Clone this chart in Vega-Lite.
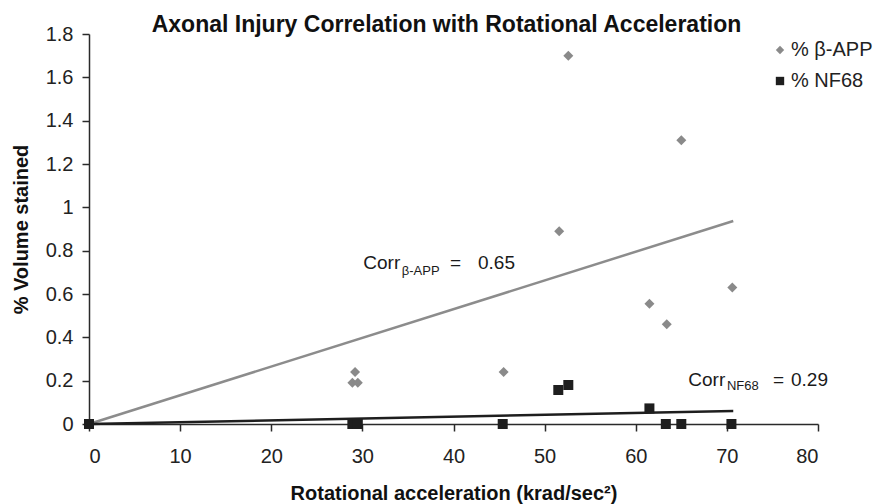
{
  "$schema": "https://vega.github.io/schema/vega-lite/v6.json",
  "autosize": "none",
  "width": 729,
  "height": 390,
  "padding": {"left": 89, "top": 34, "right": 64, "bottom": 80},
  "background": "white",
  "config": {
    "view": {"stroke": null},
    "font": "Liberation Sans",
    "axis": {
      "grid": false,
      "domainColor": "#2a2a2a",
      "domainWidth": 1.5,
      "tickColor": "#2a2a2a",
      "tickWidth": 1.5,
      "tickSize": 7,
      "labelFont": "Liberation Sans",
      "labelFontSize": 20,
      "labelColor": "#222222",
      "titleFont": "Liberation Sans",
      "titleFontSize": 20,
      "titleFontWeight": "bold",
      "titleColor": "#111111"
    }
  },
  "title": {
    "text": "Axonal Injury Correlation with Rotational Acceleration",
    "font": "Liberation Sans",
    "fontSize": 23,
    "fontWeight": "bold",
    "color": "#111111",
    "anchor": "middle",
    "dx": -7,
    "offset": -13
  },
  "datasets": {
    "points": [
      {"series": "% β-APP", "acc": 0, "vol": 0},
      {"series": "% β-APP", "acc": 28.9, "vol": 0.19},
      {"series": "% β-APP", "acc": 29.5, "vol": 0.19},
      {"series": "% β-APP", "acc": 29.2, "vol": 0.24},
      {"series": "% β-APP", "acc": 45.5, "vol": 0.24},
      {"series": "% β-APP", "acc": 51.6, "vol": 0.89},
      {"series": "% β-APP", "acc": 52.6, "vol": 1.7},
      {"series": "% β-APP", "acc": 61.5, "vol": 0.555},
      {"series": "% β-APP", "acc": 63.4, "vol": 0.46},
      {"series": "% β-APP", "acc": 65.0, "vol": 1.31},
      {"series": "% β-APP", "acc": 70.6, "vol": 0.63},
      {"series": "% NF68", "acc": 0, "vol": 0},
      {"series": "% NF68", "acc": 28.9, "vol": 0},
      {"series": "% NF68", "acc": 29.5, "vol": 0},
      {"series": "% NF68", "acc": 45.4, "vol": 0},
      {"series": "% NF68", "acc": 51.5, "vol": 0.157},
      {"series": "% NF68", "acc": 52.6, "vol": 0.18},
      {"series": "% NF68", "acc": 61.5, "vol": 0.072},
      {"series": "% NF68", "acc": 63.3, "vol": 0},
      {"series": "% NF68", "acc": 65.0, "vol": 0},
      {"series": "% NF68", "acc": 70.5, "vol": 0}
    ],
    "trends": [
      {"series": "% β-APP", "acc": 0, "vol": 0},
      {"series": "% β-APP", "acc": 70.7, "vol": 0.937},
      {"series": "% NF68", "acc": 0, "vol": 0},
      {"series": "% NF68", "acc": 70.7, "vol": 0.06}
    ],
    "notes_big": [
      {"acc": 30.1, "vol": 0.714, "label": "Corr"},
      {"acc": 39.62, "vol": 0.714, "label": "="},
      {"acc": 42.69, "vol": 0.714, "label": "0.65"},
      {"acc": 65.77, "vol": 0.1754, "label": "Corr"},
      {"acc": 75.06, "vol": 0.1754, "label": "="},
      {"acc": 77.04, "vol": 0.1754, "label": "0.29"}
    ],
    "notes_small": [
      {"acc": 34.32, "vol": 0.688, "label": "β-APP"},
      {"acc": 70.0, "vol": 0.157, "label": "NF68"}
    ]
  },
  "layer": [
    {
      "data": {"name": "trends"},
      "transform": [{"filter": "datum.series === '% β-APP'"}],
      "mark": {"type": "line", "color": "#8c8c8c", "strokeWidth": 2.5},
      "encoding": {
        "x": {"field": "acc", "type": "quantitative"},
        "y": {"field": "vol", "type": "quantitative"}
      }
    },
    {
      "data": {"name": "trends"},
      "transform": [{"filter": "datum.series === '% NF68'"}],
      "mark": {"type": "line", "color": "#1e1e1e", "strokeWidth": 2.5},
      "encoding": {
        "x": {"field": "acc", "type": "quantitative"},
        "y": {"field": "vol", "type": "quantitative"}
      }
    },
    {
      "data": {"name": "points"},
      "mark": {"type": "point", "filled": true, "opacity": 1, "size": 100},
      "encoding": {
        "x": {
          "field": "acc",
          "type": "quantitative",
          "scale": {"domain": [0, 80], "nice": false},
          "axis": {
            "title": "Rotational acceleration (krad/sec²)",
            "values": [0, 10, 20, 30, 40, 50, 60, 70, 80],
            "labelPadding": 15,
            "titlePadding": 17
          }
        },
        "y": {
          "field": "vol",
          "type": "quantitative",
          "scale": {"domain": [0, 1.8], "nice": false},
          "axis": {
            "title": "% Volume stained",
            "values": [0, 0.2, 0.4, 0.6, 0.8, 1, 1.2, 1.4, 1.6, 1.8],
            "format": "~g",
            "labelPadding": 9,
            "titlePadding": 14
          }
        },
        "color": {
          "field": "series",
          "type": "nominal",
          "scale": {"domain": ["% β-APP", "% NF68"], "range": ["#8a8a8a", "#1e1e1e"]},
          "legend": {
            "title": null,
            "orient": "none",
            "legendX": 681,
            "legendY": 6,
            "labelFontSize": 20,
            "labelColor": "#222222",
            "labelFont": "Liberation Sans",
            "symbolSize": 70,
            "rowPadding": 11,
            "labelOffset": 1
          }
        },
        "shape": {
          "field": "series",
          "type": "nominal",
          "scale": {"domain": ["% β-APP", "% NF68"], "range": ["diamond", "square"]}
        }
      }
    },
    {
      "data": {"name": "notes_big"},
      "mark": {"type": "text", "align": "left", "baseline": "alphabetic", "fontSize": 19, "color": "#1a1a1a", "font": "Liberation Sans"},
      "encoding": {
        "x": {"field": "acc", "type": "quantitative"},
        "y": {"field": "vol", "type": "quantitative"},
        "text": {"field": "label"}
      }
    },
    {
      "data": {"name": "notes_small"},
      "mark": {"type": "text", "align": "left", "baseline": "alphabetic", "fontSize": 13, "color": "#1a1a1a", "font": "Liberation Sans"},
      "encoding": {
        "x": {"field": "acc", "type": "quantitative"},
        "y": {"field": "vol", "type": "quantitative"},
        "text": {"field": "label"}
      }
    }
  ]
}
